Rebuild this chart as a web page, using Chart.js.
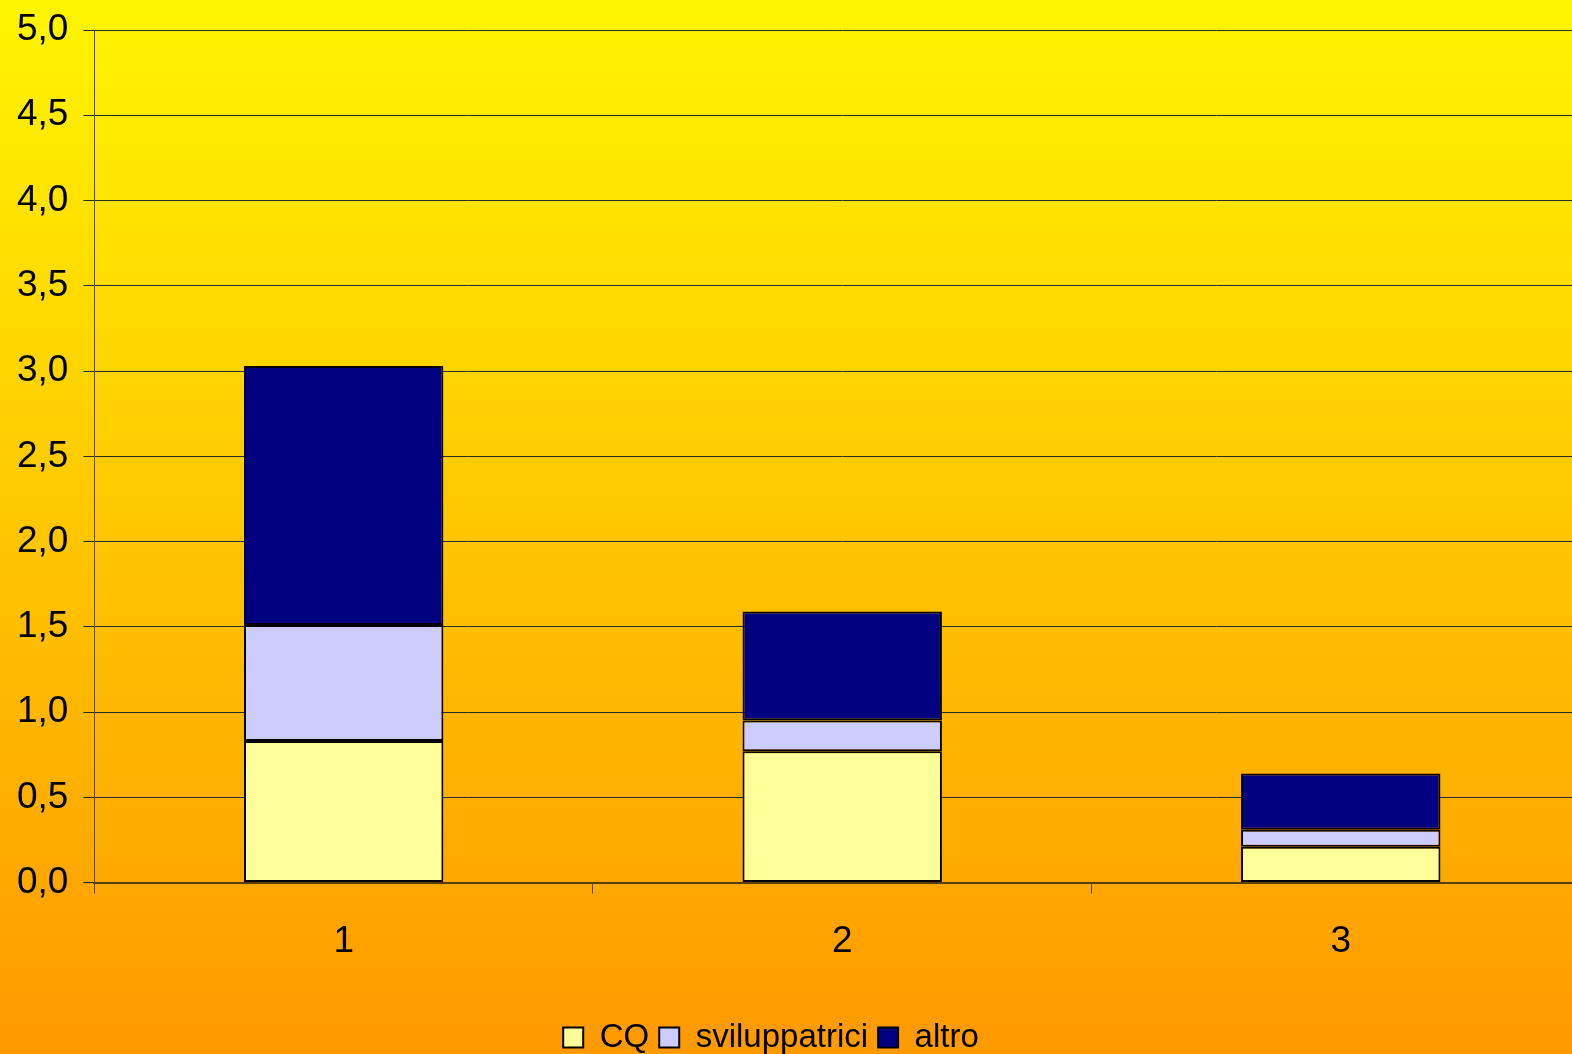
<!DOCTYPE html>
<html>
<head>
<meta charset="utf-8">
<script src="https://cdn.jsdelivr.net/npm/chart.js@4.4.1/dist/chart.umd.min.js"></script>
<style>
    html, body { margin: 0; padding: 0; overflow: hidden; width: 1572px; height: 1054px; background: #ff9900; }
</style>
</head>
<body>
<!-- canvas is a little wider than the window: the original plot runs off the right edge -->
<canvas id="chart" width="1593" height="1054"></canvas>
<script>
const categories = ["1", "2", "3"];
const cqValues = [0.83, 0.77, 0.21];
const sviluppatriciValues = [0.68, 0.18, 0.10];
const altroValues = [1.52, 0.64, 0.33];
const yTicks = [0, 0.5, 1, 1.5, 2, 2.5, 3, 3.5, 4, 4.5, 5];

// yellow -> orange background over the whole canvas
const backgroundPlugin = {
    id: 'bgGradient',
    beforeDraw(chart) {
        const ctx = chart.ctx;
        const grad = ctx.createLinearGradient(0, 0, 0, chart.height);
        grad.addColorStop(0, '#fff500');
        grad.addColorStop(1, '#ff9900');
        ctx.save();
        ctx.fillStyle = grad;
        ctx.fillRect(0, 0, chart.width, chart.height);
        ctx.restore();
    }
};

// legend in the original sits left of centre and close to the bottom edge
const legendShift = {
    id: 'legendShift',
    afterLayout(chart) {
        chart.legend.left -= 25;
        chart.legend.right -= 25;
        chart.legend.top += 21;
        chart.legend.bottom += 21;
    }
};

function fmt(v) {
    return v.toFixed(1).replace('.', ',');
}

new Chart(document.getElementById('chart'), {
    type: 'bar',
    data: {
        labels: categories,
        datasets: [
            {
                label: 'CQ',
                data: cqValues,
                backgroundColor: '#ffff99',
                borderColor: '#000000',
                borderWidth: 2,
                borderSkipped: false,
            },
            {
                label: 'sviluppatrici',
                data: sviluppatriciValues,
                backgroundColor: '#ccccff',
                borderColor: '#000000',
                borderWidth: 2,
                borderSkipped: false,
            },
            {
                label: 'altro',
                data: altroValues,
                backgroundColor: '#000080',
                borderColor: '#000000',
                borderWidth: 2,
                borderSkipped: false,
            },
        ]
    },
    options: {
        responsive: false,
        animation: false,
        layout: {
            padding: {left: 2, right: 3, top: 30, bottom: 11}
        },
        datasets: {
            bar: {
                barPercentage: 0.4,
                categoryPercentage: 1.0,
            }
        },
        plugins: {
            legend: {
                position: 'bottom',
                labels: {
                    color: '#000000',
                    boxWidth: 20,
                    boxHeight: 20,
                    padding: 10,
                    font: {family: 'Liberation Sans, Arial', size: 33},
                }
            },
            tooltip: {enabled: false},
        },
        scales: {
            x: {
                stacked: true,
                grid: {
                    display: true,
                    offset: true,
                    drawOnChartArea: false,
                    color: '#4a4a4a',
                    tickLength: 11,
                },
                border: {color: '#5a4000', width: 2},
                ticks: {
                    color: '#000000',
                    padding: 26,
                    font: {family: 'Liberation Sans, Arial', size: 37},
                },
            },
            y: {
                stacked: true,
                min: 0,
                max: 5,
                afterBuildTicks(scale) {
                    scale.ticks = yTicks.map(v => ({value: v}));
                },
                // let layout.padding.top decide where 5,0 sits
                afterFit(scale) {
                    scale.paddingTop = 0;
                },
                grid: {
                    color: '#2a2a2a',
                    lineWidth: 1,
                    tickLength: 11,
                },
                border: {color: '#4a4a4a', width: 1},
                ticks: {
                    color: '#000000',
                    padding: 15,
                    font: {family: 'Liberation Sans, Arial', size: 37},
                    callback: (v) => fmt(v),
                },
            }
        }
    },
    plugins: [backgroundPlugin, legendShift]
});
</script>
</body>
</html>
